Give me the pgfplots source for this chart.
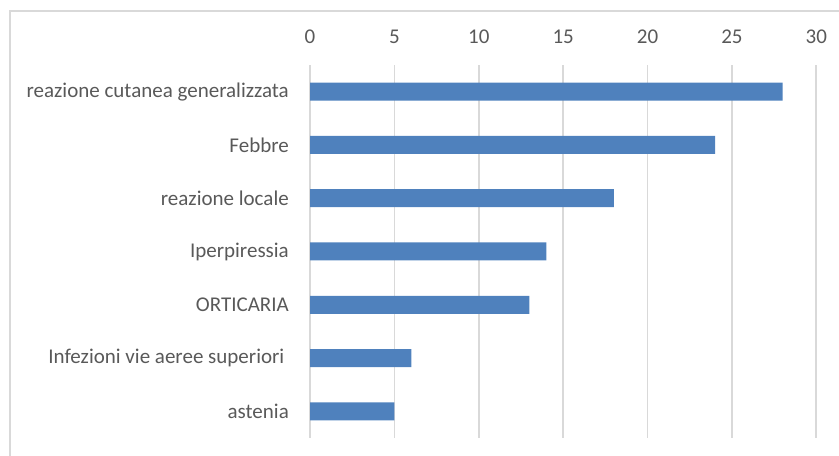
\documentclass[border=0pt]{standalone}
\usepackage{pgfplots}
\pgfplotsset{compat=1.18}
\usepackage{fontspec}
\setmainfont{Carlito}
\definecolor{barblue}{HTML}{4F81BD}
\definecolor{gridgray}{HTML}{D9D9D9}
\definecolor{txtgray}{HTML}{595959}
\begin{document}
\begin{tikzpicture}[x=1bp,y=1bp]
\useasboundingbox (0,0) rectangle (839,456);
\draw[gridgray, line width=1.5bp] (9.8,-5) -- (9.8,445.2) -- (850,445.2);
\begin{axis}[
  at={(310bp,18bp)}, anchor=south west,
  scale only axis, width=506.3bp, height=373bp,
  xbar, bar width=18bp,
  xmin=0, xmax=30, ymin=-0.5, ymax=6.5,
  xtick={0,5,...,30},
  ytick={0,...,6},
  yticklabels={astenia,{Infezioni vie aeree superiori\kern4.5bp},ORTICARIA,Iperpiressia,reazione locale,Febbre,reazione cutanea generalizzata},
  xticklabel pos=upper,
  axis line style={draw=none},
  major tick length=0pt,
  xmajorgrids, grid style={gridgray, line width=1.7bp},
  extra x ticks={0}, extra x tick labels={},
  extra x tick style={grid style={gridgray, line width=1.7bp}},
  /pgf/number format/assume math mode=true,
  tick label style={font=\fontsize{21bp}{25bp}\selectfont, text=txtgray},
  xticklabel style={inner sep=0pt, anchor=south, yshift=21bp},
  yticklabel style={inner sep=0pt, anchor=east, xshift=-21bp},
  clip=false,
]
\addplot[fill=barblue, draw=none] coordinates {(5,0) (6,1) (13,2) (14,3) (18,4) (24,5) (28,6)};
\end{axis}
\end{tikzpicture}
\end{document}
